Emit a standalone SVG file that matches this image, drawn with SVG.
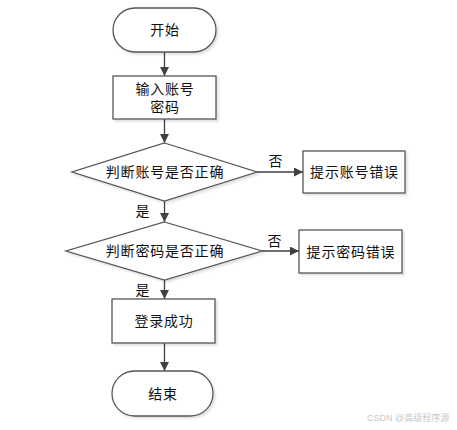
<svg xmlns="http://www.w3.org/2000/svg" width="457" height="430" viewBox="0 0 457 430">
<defs>
<marker id="ah" viewBox="0 0 10 10" refX="10" refY="5" markerWidth="9" markerHeight="9" markerUnits="userSpaceOnUse" orient="auto">
<path d="M0,0 L10,5 L0,10 z" fill="#404040"/>
</marker>
<filter id="sh" x="-10%" y="-10%" width="130%" height="130%">
<feDropShadow dx="2" dy="2" stdDeviation="1" flood-color="#000" flood-opacity="0.12"/>
</filter>
</defs>
<style>
.s{fill:#fff;stroke:#555;stroke-width:1.3;filter:url(#sh)}
.t{font-family:"Liberation Sans","Noto Sans CJK SC",sans-serif;font-size:14px;letter-spacing:0.8px;fill:#111;text-anchor:middle;dominant-baseline:central}
.c{fill:none;stroke:#404040;stroke-width:1.3;marker-end:url(#ah)}
.w{font-family:"Liberation Sans","Noto Sans CJK SC",sans-serif;font-size:9px;fill:#c8c8c8}
</style>
<rect width="457" height="430" fill="#fff"/>
<g id="connectors">
<line class="c" x1="164.5" y1="52" x2="164.5" y2="76"/>
<line class="c" x1="164.5" y1="119" x2="164.5" y2="143"/>
<line class="c" x1="257" y1="172" x2="303" y2="172"/>
<line class="c" x1="164.5" y1="201" x2="164.5" y2="222"/>
<line class="c" x1="262" y1="251" x2="299" y2="251"/>
<line class="c" x1="164.5" y1="280" x2="164.5" y2="299"/>
<line class="c" x1="164.5" y1="343" x2="164.5" y2="371"/>
<text class="t" x="276" y="161">否</text>
<text class="t" x="143" y="211">是</text>
<text class="t" x="275" y="241">否</text>
<text class="t" x="143" y="290">是</text>
</g>
<g id="start">
<rect class="s" x="113" y="8" width="103" height="44" rx="22" ry="22"/>
<text class="t" x="165" y="30">开始</text>
</g>
<g id="input">
<rect class="s" x="113" y="76" width="103" height="43"/>
<text class="t" x="165" y="89">输入账号</text>
<text class="t" x="165" y="107">密码</text>
</g>
<g id="check-account">
<polygon class="s" points="164.5,143 257,172 164.5,201 72,172"/>
<text class="t" x="165" y="172">判断账号是否正确</text>
</g>
<g id="account-error">
<rect class="s" x="303" y="151" width="102" height="42"/>
<text class="t" x="354.5" y="172">提示账号错误</text>
</g>
<g id="check-password">
<polygon class="s" points="164.5,222 262,251 164.5,280 66,251"/>
<text class="t" x="165" y="251">判断密码是否正确</text>
</g>
<g id="password-error">
<rect class="s" x="299" y="230" width="103" height="43"/>
<text class="t" x="351" y="251.5">提示密码错误</text>
</g>
<g id="success">
<rect class="s" x="112" y="299" width="103" height="44"/>
<text class="t" x="164" y="321">登录成功</text>
</g>
<g id="end">
<rect class="s" x="112" y="371" width="101" height="45" rx="22.5" ry="22.5"/>
<text class="t" x="163" y="393.5">结束</text>
</g>
<text class="w" x="367" y="421">CSDN @高级程序源</text>
</svg>
